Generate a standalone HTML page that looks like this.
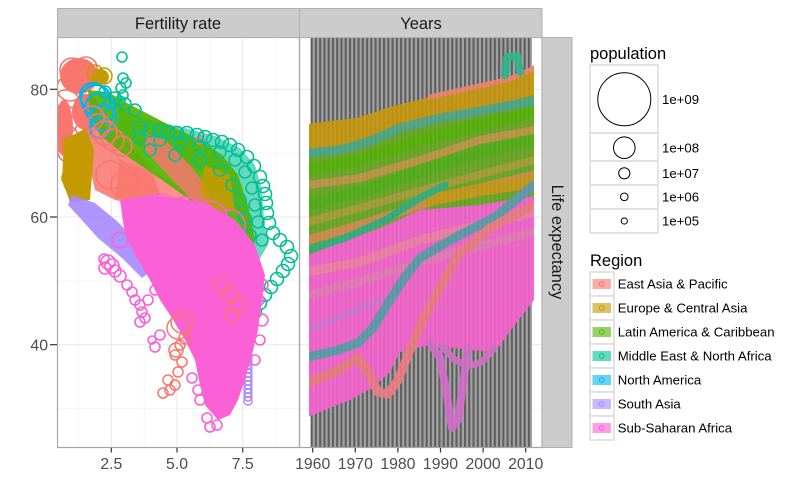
<!DOCTYPE html>
<html><head><meta charset="utf-8"><style>
html,body{margin:0;padding:0;background:#fff;}
svg{display:block;font-family:"Liberation Sans",Arial,sans-serif;}
</style></head><body>
<svg width="800" height="500" viewBox="0 0 800 500" xmlns="http://www.w3.org/2000/svg">
<defs>
<clipPath id="cl"><rect x="57.5" y="37.5" width="242" height="410"/></clipPath>
<clipPath id="cr"><rect x="309" y="37.5" width="225" height="410"/></clipPath>
<pattern id="bars" patternUnits="userSpaceOnUse" x="310.6" y="0" width="4.26" height="10">
<rect width="4.26" height="10" fill="#a3a3a3"/>
<rect width="2.1" height="10" fill="#5e5e5e"/>
</pattern>
</defs>
<rect width="800" height="500" fill="#fff"/>

<!-- grid left -->
<g stroke="#f5f5f5" stroke-width="1">
<line x1="78.5" y1="37.5" x2="78.5" y2="447.5"/><line x1="144.2" y1="37.5" x2="144.2" y2="447.5"/>
<line x1="209.9" y1="37.5" x2="209.9" y2="447.5"/><line x1="275.6" y1="37.5" x2="275.6" y2="447.5"/>
<line x1="57.5" y1="153.2" x2="542" y2="153.2"/><line x1="57.5" y1="280.9" x2="542" y2="280.9"/>
<line x1="57.5" y1="408.6" x2="542" y2="408.6"/>
</g>
<g stroke="#e8e8e8" stroke-width="1">
<line x1="111.3" y1="37.5" x2="111.3" y2="447.5"/><line x1="177" y1="37.5" x2="177" y2="447.5"/>
<line x1="242.7" y1="37.5" x2="242.7" y2="447.5"/>
<line x1="57.5" y1="89.3" x2="542" y2="89.3"/><line x1="57.5" y1="217" x2="542" y2="217"/>
<line x1="57.5" y1="344.7" x2="542" y2="344.7"/>
</g>

<!-- LEFT PANEL DATA -->
<g clip-path="url(#cl)">
<!-- salmon top -->
<g fill="#F8766D"><ellipse cx="79" cy="76" rx="19" ry="18"/><ellipse cx="64" cy="128" rx="9" ry="28"/><ellipse cx="86" cy="112" rx="14" ry="18"/></g>
<path d="M85,110 L105,125 L130,145 L150,165 L160,195 L140,205 L115,200 L95,190 L88,160 L84,130 Z" fill="#F8766D" opacity="0.85"/>
<path d="M120,160 L160,175 L200,200 L222,216 L180,206 L140,202 L115,196 Z" fill="#F8766D" opacity="0.8"/>
<g fill="none" stroke="#F8766D" stroke-width="1.6">
<circle cx="72" cy="70" r="12"/><circle cx="86" cy="68" r="11"/><circle cx="70" cy="88" r="13"/><circle cx="66" cy="104" r="14"/><circle cx="63" cy="120" r="15"/><circle cx="64" cy="138" r="14"/><circle cx="68" cy="152" r="10"/>
<circle cx="110" cy="175" r="14"/><circle cx="125" cy="185" r="14"/><circle cx="140" cy="190" r="12"/>
</g>
<!-- gold -->
<g fill="#C49A00"><ellipse cx="100" cy="77" rx="9" ry="8"/><path d="M64,140 L86,128 L94,150 L92,175 L90,200 L70,202 L62,180 Z"/></g>
<g fill="none" stroke="#C49A00" stroke-width="1.6">
<circle cx="95" cy="73" r="8"/><circle cx="104" cy="76" r="8"/><circle cx="73" cy="183" r="9"/><circle cx="76" cy="188" r="9"/><circle cx="70" cy="178" r="8"/><circle cx="78" cy="160" r="10"/><circle cx="72" cy="145" r="9"/>
</g>
<!-- teal fill -->
<path d="M118,108 L150,120 L185,128 L215,136 L240,148 L255,165 L262,190 L264,220 L268,245 L258,262 L248,245 L238,215 L222,190 L200,172 L170,160 L140,148 L118,130 Z" fill="#00C094" opacity="0.6"/>
<!-- green -->
<path d="M88,90 L108,92 L125,102 L150,115 L175,128 L200,140 L222,155 L238,175 L248,205 L255,240 L252,268 L238,270 L226,245 L210,220 L190,200 L165,182 L140,165 L118,150 L100,135 L90,115 Z" fill="#53B400" opacity="0.92"/>
<!-- blue rings -->
<g fill="none" stroke="#00B6EB" stroke-width="2.2">
<circle cx="96" cy="100" r="15"/><circle cx="100" cy="108" r="15"/><circle cx="93" cy="96" r="13"/><circle cx="103" cy="118" r="13"/><circle cx="100" cy="128" r="10"/>
</g>
<!-- salmon band -->
<path d="M145,133 L165,140 L190,165 L212,195 L208,212 L190,198 L165,172 L145,150 Z" fill="#F8766D" opacity="0.85"/>
<g fill="none" stroke="#F8766D" stroke-width="1.8">
<circle cx="92" cy="118" r="12"/><circle cx="98" cy="126" r="12"/><circle cx="105" cy="133" r="12"/><circle cx="113" cy="140" r="11"/><circle cx="122" cy="146" r="10"/>
<circle cx="200" cy="140" r="4"/>
</g>
<!-- gold right bits -->
<g fill="#C49A00" opacity="0.9">
<path d="M205,165 L230,175 L235,210 L215,215 L200,190 Z"/>
<path d="M170,258 L200,262 L207,295 L185,298 L170,280 Z"/>
</g>
<!-- teal rings -->
<g fill="none" stroke="#00C094" stroke-width="1.6">
<circle cx="122" cy="57" r="5"/><circle cx="123" cy="78" r="5"/><circle cx="126" cy="83" r="5"/><circle cx="121" cy="88" r="5"/><circle cx="123" cy="95" r="5"/><circle cx="120" cy="101" r="5"/>
<circle cx="140" cy="128" r="6.5"/><circle cx="150" cy="130" r="6.5"/><circle cx="160" cy="131" r="6.5"/><circle cx="168" cy="132" r="6.5"/><circle cx="177" cy="133" r="6.5"/><circle cx="187" cy="133" r="6.5"/><circle cx="197" cy="135" r="6.5"/><circle cx="205" cy="137" r="6.5"/><circle cx="213" cy="140" r="6.5"/><circle cx="222" cy="142" r="6.5"/><circle cx="230" cy="145" r="6.5"/><circle cx="238" cy="150" r="6.5"/><circle cx="247" cy="157" r="6.5"/><circle cx="254" cy="166" r="6.5"/><circle cx="260" cy="177" r="6.5"/><circle cx="263" cy="186" r="6.5"/><circle cx="265" cy="194" r="6.5"/><circle cx="266" cy="203" r="6.5"/><circle cx="267" cy="213" r="6.5"/><circle cx="269" cy="223" r="6.5"/><circle cx="273" cy="233" r="6.5"/><circle cx="280" cy="240" r="6.5"/><circle cx="287" cy="247" r="6.5"/><circle cx="291" cy="256" r="6.5"/><circle cx="288" cy="264" r="6.5"/><circle cx="283" cy="271" r="6.5"/><circle cx="277" cy="279" r="6.5"/><circle cx="271" cy="287" r="6.5"/><circle cx="265" cy="295" r="6.5"/><circle cx="260" cy="303" r="6.5"/><circle cx="255" cy="312" r="6.5"/><circle cx="250" cy="321" r="6.5"/><circle cx="246" cy="331" r="6.5"/><circle cx="242" cy="341" r="6.5"/><circle cx="240" cy="351" r="6"/><circle cx="238" cy="359" r="6"/>
<circle cx="140" cy="138" r="6"/><circle cx="160" cy="140" r="6"/><circle cx="180" cy="142" r="6"/><circle cx="200" cy="146" r="6"/><circle cx="220" cy="152" r="6"/><circle cx="235" cy="160" r="6"/><circle cx="245" cy="172" r="6"/><circle cx="252" cy="188" r="6"/><circle cx="255" cy="205" r="6"/><circle cx="258" cy="222" r="6"/><circle cx="262" cy="240" r="6"/>
<circle cx="150" cy="150" r="6"/><circle cx="175" cy="155" r="6"/><circle cx="200" cy="160" r="6"/><circle cx="220" cy="170" r="6"/><circle cx="232" cy="185" r="6"/><circle cx="240" cy="200" r="6"/><circle cx="245" cy="218" r="6"/><circle cx="250" cy="235" r="6"/>
<circle cx="105" cy="92" r="6"/><circle cx="115" cy="98" r="6"/><circle cx="125" cy="104" r="6"/><circle cx="135" cy="110" r="6"/>
<circle cx="250" cy="300" r="6"/><circle cx="245" cy="315" r="6"/>
</g>
<!-- purple -->
<path d="M72,195 L95,203 L118,222 L138,243 L152,270 L142,278 L122,258 L98,238 L80,218 L68,205 Z" fill="#A58AFF" opacity="0.9"/>
<g fill="none" stroke="#A58AFF" stroke-width="1.4">
<circle cx="248" cy="357" r="4"/><circle cx="248" cy="361" r="4"/><circle cx="248" cy="365" r="4"/><circle cx="248" cy="369" r="4"/><circle cx="248" cy="373" r="4"/><circle cx="248" cy="377" r="4"/><circle cx="248" cy="381" r="4"/><circle cx="248" cy="385" r="4"/><circle cx="248" cy="389" r="4"/><circle cx="248" cy="393" r="4"/><circle cx="248" cy="397" r="4"/><circle cx="248" cy="401" r="4"/>
<circle cx="150" cy="255" r="6"/><circle cx="152" cy="265" r="6"/>
</g>
<!-- magenta -->
<path d="M120,200 L150,195 L180,198 L210,205 L235,220 L255,245 L265,275 L262,300 L258,330 L252,355 L245,380 L238,400 L230,415 L218,420 L205,405 L200,385 L195,360 L185,340 L172,318 L160,300 L150,280 L135,255 L125,235 Z" fill="#FB61D7"/>
<g fill="none" stroke="#FB61D7" stroke-width="1.6">
<circle cx="140" cy="215" r="17"/><circle cx="160" cy="212" r="18"/><circle cx="185" cy="215" r="18"/><circle cx="210" cy="218" r="17"/><circle cx="230" cy="225" r="15"/><circle cx="120" cy="240" r="8"/>
<circle cx="108" cy="262" r="7"/><circle cx="112" cy="266" r="7"/><circle cx="105" cy="268" r="6"/><circle cx="115" cy="271" r="6"/><circle cx="120" cy="276" r="6"/><circle cx="104" cy="259" r="5"/>
<circle cx="127" cy="285" r="5"/><circle cx="132" cy="292" r="5"/><circle cx="135" cy="300" r="5"/><circle cx="140" cy="305" r="5"/><circle cx="142" cy="312" r="5"/><circle cx="145" cy="318" r="5"/><circle cx="140" cy="322" r="5"/><circle cx="148" cy="300" r="5"/><circle cx="155" cy="290" r="5"/><circle cx="158" cy="280" r="5"/>
<circle cx="155" cy="347" r="5"/><circle cx="152" cy="340" r="4"/><circle cx="160" cy="335" r="5"/>
<circle cx="207" cy="418" r="5"/><circle cx="210" cy="427" r="5"/><circle cx="217" cy="425" r="5"/><circle cx="222" cy="410" r="5"/><circle cx="225" cy="397" r="5"/><circle cx="231" cy="390" r="5"/><circle cx="200" cy="400" r="5"/><circle cx="198" cy="390" r="5"/><circle cx="192" cy="378" r="5"/>
<circle cx="258" cy="300" r="6"/><circle cx="262" cy="320" r="6"/><circle cx="260" cy="340" r="5"/><circle cx="262" cy="285" r="6"/><circle cx="255" cy="360" r="5"/>
</g>
<!-- salmon lower -->
<g fill="none" stroke="#F8766D" stroke-width="1.5">
<circle cx="163" cy="393" r="5"/><circle cx="170" cy="390" r="5"/><circle cx="175" cy="385" r="5"/><circle cx="168" cy="380" r="5"/><circle cx="178" cy="372" r="5"/><circle cx="182" cy="362" r="5"/><circle cx="175" cy="355" r="5"/><circle cx="180" cy="345" r="5"/><circle cx="185" cy="338" r="6"/><circle cx="176" cy="350" r="7"/>
<circle cx="178" cy="328" r="11"/><circle cx="182" cy="322" r="11"/>
<circle cx="222" cy="285" r="8"/><circle cx="230" cy="295" r="8"/><circle cx="238" cy="305" r="8"/><circle cx="232" cy="315" r="7"/>
</g>
</g>

<!-- RIGHT PANEL -->
<rect x="310.6" y="37.5" width="221.4" height="410" fill="url(#bars)"/>
<g clip-path="url(#cr)">
<path d="M308,124 L330,121 L357,118 L375,112 L390,107 L410,102 L430,97 L450,93 L470,90 L490,85 L510,80 L525,72 L534,66 L534,100 L500,108 L460,118 L430,124 L400,135 L360,145 L308,157 Z" fill="#C8980A"/>
<path d="M308,150 L360,142 L400,130 L460,114 L534,95 L534,200 L480,205 L420,210 L380,228 L340,243 L308,258 Z" fill="#67a91f"/>
<path d="M308,255 L340,243 L380,228 L420,210 L480,205 L534,196 L534,300 L520,318 L505,338 L495,352 L470,350 L430,345 L400,352 L390,372 L372,388 L350,400 L330,408 L308,417 Z" fill="#F962D0"/>
<g fill="none" stroke-linecap="round" stroke-linejoin="round">
<path d="M308,153 L340,150 L370,141 L400,128 L440,118 L480,111 L534,101" stroke="#45a88e" stroke-width="9" opacity="0.9"/>
<path d="M308,170 L360,160 L420,140 L480,125 L534,112" stroke="#53B400" stroke-width="12"/>
<path d="M308,185 L360,178 L420,160 L480,140 L534,130" stroke="#d59248" stroke-width="8" opacity="0.8"/>
<path d="M308,205 L360,192 L420,172 L480,152 L534,140" stroke="#4fb010" stroke-width="12"/>
<path d="M308,222 L370,205 L430,188 L534,160" stroke="#a4a030" stroke-width="8"/>
<path d="M308,240 L350,228 L400,212 L450,195 L534,175" stroke="#e3884d" stroke-width="9" opacity="0.85"/>
<path d="M430,200 L480,190 L534,182" stroke="#c99a10" stroke-width="12"/>
<path d="M308,250 L345,238 L385,220 L420,198 L445,185" stroke="#2eb07a" stroke-width="7"/>
<path d="M308,272 L360,262 L420,240 L480,225 L534,212" stroke="#f47fa8" stroke-width="9"/>
<path d="M308,295 L360,282 L420,262 L534,232" stroke="#e97ab8" stroke-width="8"/>
<path d="M308,330 L380,300" stroke="#c87ae0" stroke-width="6" opacity="0.7"/>
<path d="M308,357 L335,351 L358,343 L373,328 L388,303 L405,277 L420,258 L440,246 L460,235 L495,217 L534,185" stroke="#5b9caa" stroke-width="9"/>
<path d="M308,383 L335,372 L358,358 L368,372 L378,392 L388,394 L398,380 L410,350 L425,315 L440,288 L458,255 L490,228 L534,205" stroke="#f27a82" stroke-width="9"/>
<path d="M430,343 L440,358 L446,390 L452,428 L458,420 L463,385 L468,348" stroke="#d56ccb" stroke-width="8"/>
<path d="M442,346 L455,360 L468,366 L482,362 L494,348" stroke="#d46ec7" stroke-width="7"/>
<path d="M430,97 L470,88 L510,79 L534,68" stroke="#f2836a" stroke-width="5"/>
<path d="M505,75 L507,57 L517,56 L520,72" stroke="#2fb78f" stroke-width="8"/>
</g>
<rect x="310.6" y="37.5" width="221.4" height="410" fill="url(#bars)" opacity="0.12"/>
</g>

<!-- panel borders -->
<rect x="57.5" y="37.5" width="242" height="410" fill="none" stroke="#a6a6a6" stroke-width="1.2"/>
<rect x="299.5" y="37.5" width="242.5" height="410" fill="none" stroke="#a6a6a6" stroke-width="1.2"/>

<!-- strips -->
<rect x="57.5" y="8.5" width="242" height="29" fill="#cccccc" stroke="#b0b0b0" stroke-width="1"/>
<rect x="299.5" y="8.5" width="242.5" height="29" fill="#cccccc" stroke="#b0b0b0" stroke-width="1"/>
<rect x="542" y="37.5" width="30" height="410" fill="#cccccc" stroke="#b0b0b0" stroke-width="1"/>
<text x="178" y="29" font-size="16.5" text-anchor="middle" fill="#1a1a1a">Fertility rate</text>
<text x="421" y="29" font-size="16.5" text-anchor="middle" fill="#1a1a1a">Years</text>
<text transform="translate(552,242) rotate(90)" font-size="16.5" text-anchor="middle" fill="#1a1a1a">Life expectancy</text>

<!-- ticks -->
<g stroke="#333" stroke-width="1.2">
<line x1="50" y1="89.3" x2="57" y2="89.3"/><line x1="50" y1="217" x2="57" y2="217"/><line x1="50" y1="344.7" x2="57" y2="344.7"/>
<line x1="111.3" y1="448" x2="111.3" y2="452.5"/><line x1="177" y1="448" x2="177" y2="452.5"/><line x1="242.7" y1="448" x2="242.7" y2="452.5"/>
<line x1="312.7" y1="448" x2="312.7" y2="452.5"/><line x1="355.3" y1="448" x2="355.3" y2="452.5"/><line x1="397.9" y1="448" x2="397.9" y2="452.5"/><line x1="440.5" y1="448" x2="440.5" y2="452.5"/><line x1="483.1" y1="448" x2="483.1" y2="452.5"/><line x1="525.7" y1="448" x2="525.7" y2="452.5"/>
</g>
<g font-size="15.8" fill="#4d4d4d">
<text x="48" y="95.3" text-anchor="end">80</text>
<text x="48" y="223" text-anchor="end">60</text>
<text x="48" y="350.7" text-anchor="end">40</text>
<g text-anchor="middle">
<text x="111.3" y="469">2.5</text><text x="177" y="469">5.0</text><text x="242.7" y="469">7.5</text>
<text x="312.7" y="469">1960</text><text x="355.3" y="469">1970</text><text x="397.9" y="469">1980</text><text x="440.5" y="469">1990</text><text x="483.1" y="469">2000</text><text x="525.7" y="469">2010</text>
</g>
</g>

<!-- population legend -->
<text x="590" y="59" font-size="16.5" fill="#000">population</text>
<g fill="#fff" stroke="#d9d9d9" stroke-width="1.4">
<rect x="590" y="65" width="68" height="68"/><rect x="590" y="133" width="68" height="28"/><rect x="590" y="161" width="68" height="24"/><rect x="590" y="185" width="68" height="24"/><rect x="590" y="209" width="68" height="24"/>
</g>
<g fill="none" stroke="#000" stroke-width="1">
<circle cx="624.3" cy="99.3" r="26.5"/><circle cx="624.3" cy="147.7" r="10.8"/><circle cx="624.3" cy="173.3" r="5.6"/><circle cx="624.3" cy="196.8" r="3.8"/><circle cx="624.3" cy="221" r="3.1"/>
</g>
<g font-size="13.2" fill="#000">
<text x="662" y="104">1e+09</text><text x="662" y="152.5">1e+08</text><text x="662" y="178">1e+07</text><text x="662" y="201.5">1e+06</text><text x="662" y="225.5">1e+05</text>
</g>

<!-- Region legend -->
<text x="590" y="266" font-size="16.5" fill="#000">Region</text>
<g fill="#fff" stroke="#d9d9d9" stroke-width="1.4">
<rect x="590" y="272" width="24" height="24"/><rect x="590" y="296" width="24" height="24"/><rect x="590" y="320" width="24" height="24"/><rect x="590" y="344" width="24" height="24"/><rect x="590" y="368" width="24" height="24"/><rect x="590" y="392" width="24" height="24"/><rect x="590" y="416" width="24" height="24"/>
</g>
<g opacity="0.6">
<rect x="592.5" y="279" width="18.5" height="10" fill="#F8766D"/>
<rect x="592.5" y="303" width="18.5" height="10" fill="#C49A00"/>
<rect x="592.5" y="327" width="18.5" height="10" fill="#53B400"/>
<rect x="592.5" y="351" width="18.5" height="10" fill="#00C094"/>
<rect x="592.5" y="375" width="18.5" height="10" fill="#00B6EB"/>
<rect x="592.5" y="399" width="18.5" height="10" fill="#A58AFF"/>
<rect x="592.5" y="423" width="18.5" height="10" fill="#FB61D7"/>
</g>
<g fill="none" stroke-width="1">
<circle cx="601.7" cy="284" r="2.4" stroke="#F8766D"/>
<circle cx="601.7" cy="308" r="2.4" stroke="#C49A00"/>
<circle cx="601.7" cy="332" r="2.4" stroke="#53B400"/>
<circle cx="601.7" cy="356" r="2.4" stroke="#00C094"/>
<circle cx="601.7" cy="380" r="2.4" stroke="#00B6EB"/>
<circle cx="601.7" cy="404" r="2.4" stroke="#A58AFF"/>
<circle cx="601.7" cy="428" r="2.4" stroke="#FB61D7"/>
</g>
<g font-size="13.2" fill="#000">
<text x="617.7" y="288.7">East Asia &amp; Pacific</text>
<text x="617.7" y="312.7">Europe &amp; Central Asia</text>
<text x="617.7" y="336.7">Latin America &amp; Caribbean</text>
<text x="617.7" y="360.7">Middle East &amp; North Africa</text>
<text x="617.7" y="384.7">North America</text>
<text x="617.7" y="408.7">South Asia</text>
<text x="617.7" y="432.7">Sub-Saharan Africa</text>
</g>
</svg>
</body></html>
